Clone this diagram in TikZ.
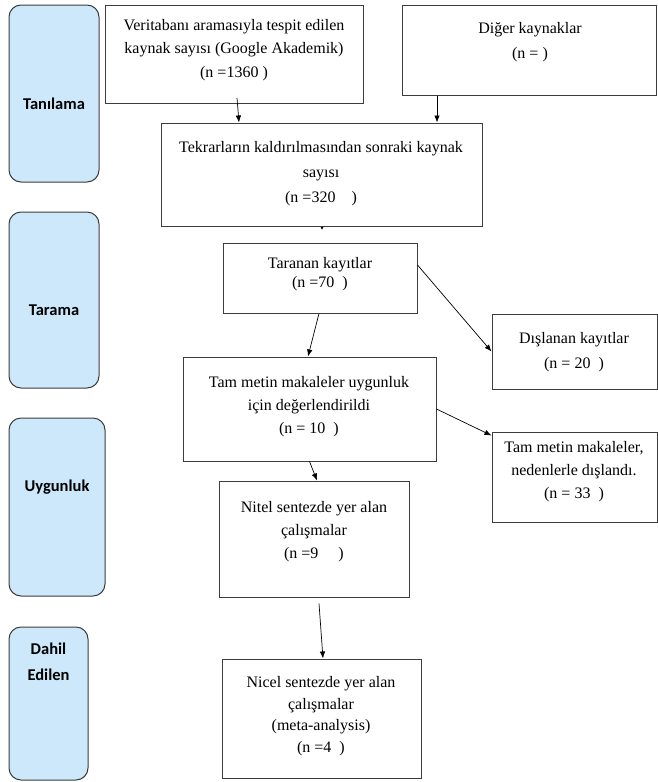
\documentclass[tikz,border=0pt]{standalone}
\usepackage{fontspec}
\setmainfont{Liberation Serif}
\newfontfamily\calib{Carlito}
\usetikzlibrary{arrows.meta,fit}
\definecolor{sidefill}{RGB}{204,232,250}
\definecolor{boxline}{RGB}{60,60,60}
\begin{document}
\begin{tikzpicture}[x=1pt,y=-1pt,
  box/.style={draw=boxline,line width=1pt,inner sep=0pt},
  sidebox/.style={draw=boxline,line width=1pt,fill=sidefill,rounded corners=12pt,inner sep=0pt},
  txt/.style={inner sep=0pt,align=center,anchor=north},
  sidetxt/.style={inner sep=0pt,align=center,font=\calib\bfseries\fontsize{16.5}{26}\selectfont},
  arr/.style={-{Latex[length=7pt,width=5.5pt]},line width=0.7pt,draw=black}]
\useasboundingbox (0,0) rectangle (658,782);
% side phase boxes
\node[sidebox,fit={(9,5) (99,182)}] (s1) {};
\node[sidebox,fit={(9,212) (99,388)}] (s2) {};
\node[sidebox,fit={(9,418) (105,596)}] (s3) {};
\node[sidebox,fit={(9,627) (88,780)}] (s4) {};
\node[sidetxt] (s1t) at (54,104) {Tanılama};
\node[sidetxt] (s2t) at (54,310) {Tarama};
\node[sidetxt] (s3t) at (57,487) {Uygunluk};
\node[sidetxt] (s4t) at (48.5,662) {Dahil\\Edilen};
% main boxes
\node[box,fit={(105,5) (363,103)}] (b1) {};
\node[box,fit={(402,5) (656,95)}] (b2) {};
\node[box,fit={(161,123) (482,226)}] (b3) {};
\node[box,fit={(223,243) (417,313)}] (b4) {};
\node[box,fit={(492,314) (657,389)}] (b6) {};
\node[box,fit={(183,357) (436,461)}] (b5) {};
\node[box,fit={(492,432) (657,522)}] (b7) {};
\node[box,fit={(219,481) (409,597)}] (b8) {};
\node[box,fit={(222,659) (421,778)}] (b9) {};
% texts
\node[txt,font=\fontsize{16}{23.5}\selectfont] (t1) at (234,19) {Veritabanı aramasıyla tespit edilen\\kaynak sayısı (Google Akademik)\\(n =1360 )};
\node[txt,font=\fontsize{16}{25}\selectfont] (t2) at (530,22) {Diğer kaynaklar\\(n = )};
\node[txt,font=\fontsize{16}{25}\selectfont] (t3) at (321,141) {Tekrarların kaldırılmasından sonraki kaynak\\sayısı\\(n =320 \ \ \ )};
\node[txt,font=\fontsize{16}{19}\selectfont] (t4) at (320,257) {Taranan kayıtlar\\(n =70 \ )};
\node[txt,font=\fontsize{16}{25}\selectfont] (t6) at (574,332) {Dışlanan kayıtlar\\(n = 20 \ )};
\node[txt,font=\fontsize{16}{23}\selectfont] (t5) at (309,376) {Tam metin makaleler uygunluk\\için değerlendirildi\\(n = 10 \ )};
\node[txt,font=\fontsize{16}{23}\selectfont] (t7) at (574,441) {Tam metin makaleler,\\nedenlerle dışlandı.\\(n = 33 \ )};
\node[txt,font=\fontsize{16}{23}\selectfont] (t8) at (314,501) {Nitel sentezde yer alan\\çalışmalar\\(n =9 \ \ \ \ )};
\node[txt,font=\fontsize{16}{21.7}\selectfont] (t9) at (321,676) {Nicel sentezde yer alan\\çalışmalar\\(meta-analysis)\\(n =4 \ )};
% connectors
\coordinate (c1) at (237,98);
\draw[arr] (c1) -- ([xshift=5pt]b1.south |- b3.north);
\coordinate (c2) at (437,0);
\draw[arr] (c2 |- b2.south) -- (c2 |- b3.north);
\coordinate (tick) at (322,230);
\draw[line width=0.7pt,-{Latex[length=3pt,width=3pt]}] ([xshift=0.5pt]b3.south) -- (tick);
\draw[arr] ([xshift=-1pt]b4.south) -- ([xshift=-1.5pt]b5.north);
\draw[arr] ([yshift=13pt]b4.east) -- (b6.west);
\draw[arr] (b5.east) -- ([yshift=-4pt]b7.north west);
\draw[arr] (b5.south) -- ([xshift=3pt]b8.north);
\draw[arr] ([xshift=5pt,yshift=-6pt]b8.south) -- ([xshift=1.5pt]b9.north);
\end{tikzpicture}
\end{document}
